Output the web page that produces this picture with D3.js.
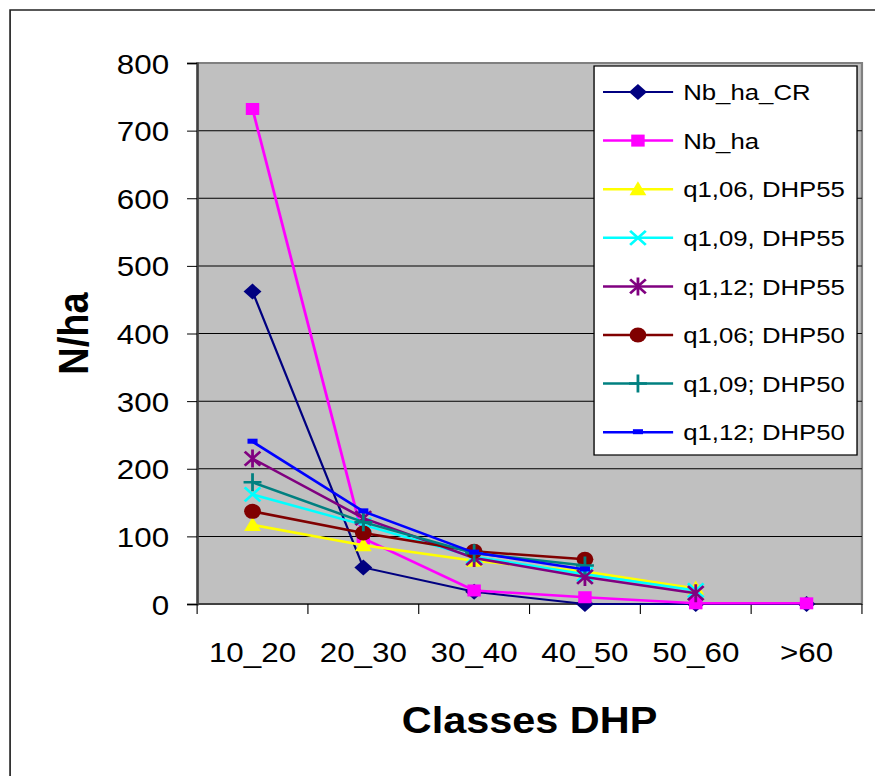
<!DOCTYPE html>
<html>
<head>
<meta charset="utf-8">
<script src="https://cdn.jsdelivr.net/npm/d3@7"></script>
<style>
  body { margin: 0; background: #fff; }
  svg { display: block; }
  text { font-family: "Liberation Sans", Arial, sans-serif; fill: #000; }
</style>
</head>
<body>
<div id="chart"></div>
<script>
// the source picture is stretched sideways, so we draw in a narrower box and let the viewBox widen it
var stretch = 1.12,
    width = 875,
    height = 776,
    innerW = width / stretch;

var categories = ["10_20", "20_30", "30_40", "40_50", "50_60", ">60"];
var yTicks = [0, 100, 200, 300, 400, 500, 600, 700, 800];

var seriesNames = ["Nb_ha_CR", "Nb_ha", "q1,06, DHP55", "q1,09, DHP55", "q1,12; DHP55",
                   "q1,06; DHP50", "q1,09; DHP50", "q1,12; DHP50"];
var nbHaCR   = [462, 54, 18, 0, 0, 0];
var nbHa     = [732, 97, 20, 10, 1, 1];
var q106_55  = [117, 87, 64, 48, 23];
var q109_55  = [162, 117, 70, 44, 20];
var q112_55  = [215, 127, 68, 40, 16];
var q106_50  = [137, 105, 78, 66];
var q109_50  = [180, 121, 75, 57];
var q112_50  = [240, 137, 76, 51];

var seriesValues = [nbHaCR, nbHa, q106_55, q109_55, q112_55, q106_50, q109_50, q112_50];
var colors  = ["#000080", "#ff00ff", "#ffff00", "#00ffff", "#800080", "#800000", "#008080", "#0000ff"];
var markers = ["diamond", "square", "triangle", "x", "star", "circle", "plus", "dash"];

var plot = { left: 176, right: 769.6, top: 63, bottom: 604 };

var x = d3.scaleBand().domain(categories).range([plot.left, plot.right]);
var y = d3.scaleLinear().domain([0, 800]).range([plot.bottom, plot.top]);

var svg = d3.select("#chart").append("svg")
    .attr("width", width)
    .attr("height", height)
    .attr("viewBox", "0 0 " + innerW + " " + height)
    .attr("preserveAspectRatio", "none");

// outer frame, runs off the right and bottom edges
svg.append("rect")
    .attr("x", 9).attr("y", 10)
    .attr("width", innerW + 20).attr("height", height + 20)
    .attr("fill", "#fff")
    .attr("stroke", "#222")
    .attr("stroke-width", 1.5);

// plot area
svg.append("rect")
    .attr("x", plot.left).attr("y", plot.top)
    .attr("width", plot.right - plot.left).attr("height", plot.bottom - plot.top)
    .attr("fill", "#c0c0c0")
    .attr("stroke", "#808080")
    .attr("stroke-width", 2);

// gridlines
svg.append("g").selectAll("line")
    .data(yTicks.filter(function(d) { return d > 0 && d < 800; }))
  .enter().append("line")
    .attr("x1", plot.left).attr("x2", plot.right)
    .attr("y1", function(d) { return y(d); })
    .attr("y2", function(d) { return y(d); })
    .attr("stroke", "#000")
    .attr("stroke-width", 1);

// y axis
var yAxis = svg.append("g")
    .attr("transform", "translate(" + plot.left + ",0)")
    .call(d3.axisLeft(y).tickValues(yTicks).tickSize(9).tickPadding(16));
yAxis.select(".domain").attr("stroke", "#404040").attr("stroke-width", 2);
yAxis.selectAll(".tick line").attr("stroke", "#000");
yAxis.selectAll(".tick text")
    .style("font-size", "28px")
    .attr("dy", "0.36em");

// x axis: line, ticks on the category boundaries, labels in the middle
svg.append("line")
    .attr("x1", plot.left).attr("x2", plot.right)
    .attr("y1", plot.bottom).attr("y2", plot.bottom)
    .attr("stroke", "#404040").attr("stroke-width", 2);

svg.append("g").selectAll("line")
    .data(categories.map(function(c) { return x(c); }).concat([plot.right]))
  .enter().append("line")
    .attr("x1", function(d) { return d; })
    .attr("x2", function(d) { return d; })
    .attr("y1", plot.bottom).attr("y2", plot.bottom + 10)
    .attr("stroke", "#000");

svg.append("g").selectAll("text")
    .data(categories)
  .enter().append("text")
    .attr("x", function(d) { return x(d) + x.bandwidth() / 2; })
    .attr("y", 662)
    .attr("text-anchor", "middle")
    .style("font-size", "28px")
    .text(function(d) { return d; });

// axis titles
svg.append("text")
    .attr("x", (plot.left + plot.right) / 2)
    .attr("y", 733)
    .attr("text-anchor", "middle")
    .style("font-size", "37px")
    .style("font-weight", "bold")
    .text("Classes DHP");

svg.append("text")
    .attr("transform", "translate(79," + (plot.top + plot.bottom) / 2 + ")rotate(-90)")
    .attr("text-anchor", "middle")
    .style("font-size", "38px")
    .style("font-weight", "bold")
    .text("N/ha");

function drawMarker(g, type, color) {
  if (type == "diamond") {
    g.append("path").attr("d", "M0,-8L8,0L0,8L-8,0Z").attr("fill", color);
  } else if (type == "square") {
    g.append("rect").attr("x", -6).attr("y", -6).attr("width", 12).attr("height", 12).attr("fill", color);
  } else if (type == "triangle") {
    g.append("path").attr("d", "M0,-8L7.5,6L-7.5,6Z").attr("fill", color);
  } else if (type == "circle") {
    g.append("circle").attr("r", 7.5).attr("fill", color);
  } else if (type == "x") {
    g.append("path").attr("d", "M-7,-7L7,7M-7,7L7,-7")
      .attr("stroke", color).attr("stroke-width", 2.5).attr("fill", "none");
  } else if (type == "star") {
    g.append("path").attr("d", "M-7,-7L7,7M-7,7L7,-7M0,-9L0,9")
      .attr("stroke", color).attr("stroke-width", 2.5).attr("fill", "none");
  } else if (type == "plus") {
    g.append("path").attr("d", "M-8,0L8,0M0,-9L0,9")
      .attr("stroke", color).attr("stroke-width", 2.5).attr("fill", "none");
  } else if (type == "dash") {
    g.append("rect").attr("x", -4.5).attr("y", -3).attr("width", 9).attr("height", 5).attr("fill", color);
  }
}

var line = d3.line()
    .x(function(d, i) { return x(categories[i]) + x.bandwidth() / 2; })
    .y(function(d) { return y(d); });

// series, in order so later ones sit on top
seriesValues.forEach(function(vals, s) {
  var g = svg.append("g").attr("class", "series");
  g.append("path")
      .attr("d", line(vals))
      .attr("fill", "none")
      .attr("stroke", colors[s])
      .attr("stroke-width", s == 0 ? 2 : 2.5);
  vals.forEach(function(v, i) {
    var m = g.append("g")
        .attr("transform", "translate(" + (x(categories[i]) + x.bandwidth() / 2) + "," + y(v) + ")");
    drawMarker(m, markers[s], colors[s]);
  });
});

// legend
var legend = { left: 530.4, right: 765.2, top: 66, bottom: 455 };
svg.append("rect")
    .attr("x", legend.left).attr("y", legend.top)
    .attr("width", legend.right - legend.left).attr("height", legend.bottom - legend.top)
    .attr("fill", "#fff")
    .attr("stroke", "#000")
    .attr("stroke-width", 1.2);

var items = svg.append("g").selectAll("g")
    .data(seriesNames)
  .enter().append("g")
    .attr("transform", function(d, i) { return "translate(0," + (92 + i * 48.6) + ")"; });

items.append("line")
    .attr("x1", 538.4).attr("x2", 601)
    .attr("stroke", function(d, i) { return colors[i]; })
    .attr("stroke-width", function(d, i) { return i == 0 ? 2 : 2.5; });

items.each(function(d, i) {
  var m = d3.select(this).append("g").attr("transform", "translate(569.6,0)");
  drawMarker(m, markers[i], colors[i]);
});

items.append("text")
    .attr("x", 610)
    .attr("dy", "0.36em")
    .style("font-size", "23px")
    .text(function(d) { return d; });
</script>
</body>
</html>
